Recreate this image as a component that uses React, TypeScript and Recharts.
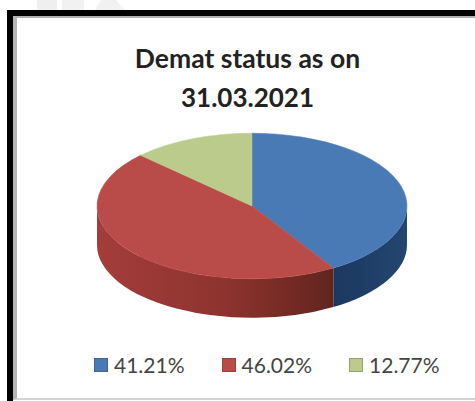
import { PieChart, Pie, Cell, Legend } from 'recharts';

const labels = ['41.21%', '46.02%', '12.77%'];
const shares = [41.21, 46.02, 12.77];
const topColors = ['#4a7ab6', '#b94c49', '#bbcb8c'];
const sideColors = ['url(#blueSide)', 'url(#redSide)', 'none'];

const data = labels.map((name, i) => ({ name, value: shares[i] }));

// pie is drawn flattened, ry is this share of the radius
const SQUASH = 0.47;
const DEPTH = 39;

function ellipsePoint(cx: number, cy: number, r: number, deg: number) {
  const t = (deg * Math.PI) / 180;
  return [cx + r * Math.cos(t), cy - r * SQUASH * Math.sin(t)];
}

function TopSlice(props: any) {
  const { cx, cy, outerRadius: r, startAngle, endAngle, fill } = props;
  const [x1, y1] = ellipsePoint(cx, cy, r, startAngle);
  const [x2, y2] = ellipsePoint(cx, cy, r, endAngle);
  const large = Math.abs(startAngle - endAngle) > 180 ? 1 : 0;
  const d = `M${cx},${cy} L${x1},${y1} A${r},${r * SQUASH} 0 ${large} 1 ${x2},${y2} Z`;
  return <path d={d} fill={fill} stroke={fill} strokeWidth={0.5} />;
}

function SideSlice(props: any) {
  const { cx, cy, outerRadius: r, startAngle, endAngle, fill } = props;
  // only the front half of the rim can be seen
  const hi = Math.min(startAngle, 0);
  const lo = Math.max(endAngle, -180);
  if (hi <= lo) return null;
  const [x1, y1] = ellipsePoint(cx, cy, r, hi);
  const [x2, y2] = ellipsePoint(cx, cy, r, lo);
  const ry = r * SQUASH;
  const d = `M${x1},${y1} A${r},${ry} 0 0 1 ${x2},${y2} L${x2},${y2 + DEPTH} A${r},${ry} 0 0 0 ${x1},${y1 + DEPTH} Z`;
  return <path d={d} fill={fill} />;
}

function LegendRow({ payload }: any) {
  const items = (payload || []).filter((p: any) => p.type !== 'none');
  return (
    <div style={{ display: 'flex', paddingLeft: 94, gap: 37, fontFamily: 'Lato, sans-serif', fontSize: 21, color: '#444', lineHeight: '24px' }}>
      {items.map((p: any) => (
        <div key={p.value} style={{ display: 'flex', alignItems: 'center', gap: 6 }}>
          <span style={{ width: 14, height: 14, background: p.color, border: '1px solid rgba(40,40,40,0.25)', boxSizing: 'border-box', display: 'block' }} />
          <span>{p.value}</span>
        </div>
      ))}
    </div>
  );
}

export default function App() {
  return (
    <div style={{ position: 'absolute', left: 0, top: 0, width: 475, height: 401, overflow: 'hidden', background: '#fff' }}>
      {/* faint watermark showing above the frame */}
      <div style={{ position: 'absolute', left: 37, top: 0, width: 20, height: 10, background: '#efefef' }} />
      <div style={{ position: 'absolute', left: 62, top: 0, width: 22, height: 10, background: '#f1f1f1' }} />
      <div style={{ position: 'absolute', left: 95, top: 0, width: 30, height: 10, background: '#f1f1f1', clipPath: 'polygon(20% 0, 70% 0, 100% 100%, 0 100%)' }} />
      <div style={{ position: 'absolute', left: 7, top: 10, width: 480, height: 391, borderLeft: '6px solid #000', borderTop: '6px solid #000', boxSizing: 'border-box' }} />
      <div style={{ position: 'absolute', left: 13, top: 16, width: 480, height: 384, borderLeft: '4px solid #b4b4b4', borderTop: '2px solid #b0b0b0', borderBottom: '2px solid #d4d4d4', boxSizing: 'border-box' }} />
      <div style={{ position: 'absolute', left: 0, top: 0 }}>
        <PieChart width={475} height={401} margin={{ top: 0, right: 0, bottom: 0, left: 0 }}>
          <defs>
            <linearGradient id="redSide" x1="0" y1="0" x2="1" y2="0">
              <stop offset="0" stopColor="#a33d3a" />
              <stop offset="0.55" stopColor="#8e332e" />
              <stop offset="1" stopColor="#62241e" />
            </linearGradient>
            <linearGradient id="blueSide" x1="0" y1="0" x2="1" y2="0">
              <stop offset="0" stopColor="#1b3860" />
              <stop offset="1" stopColor="#234670" />
            </linearGradient>
          </defs>
          <text x={247.5} y={68} textAnchor="middle" fontFamily="Lato, sans-serif" fontWeight={700} fontSize={26.5} fill="#222">Demat status as on</text>
          <text x={247.5} y={107} textAnchor="middle" fontFamily="Lato, sans-serif" fontWeight={700} fontSize={26} fill="#222">31.03.2021</text>
          <Pie data={data} dataKey="value" nameKey="name" cx={252} cy={206} outerRadius={155} startAngle={90} endAngle={-270} stroke="none" legendType="none" isAnimationActive={false} shape={SideSlice}>
            {data.map((d, i) => <Cell key={d.name} fill={sideColors[i]} />)}
          </Pie>
          <Pie data={data} dataKey="value" nameKey="name" cx={252} cy={206} outerRadius={155} startAngle={90} endAngle={-270} stroke="none" isAnimationActive={false} shape={TopSlice}>
            {data.map((d, i) => <Cell key={d.name} fill={topColors[i]} />)}
          </Pie>
          <Legend verticalAlign="middle" itemSorter={null} content={<LegendRow />} wrapperStyle={{ left: 0, top: 353, width: 475 }} />
        </PieChart>
      </div>
    </div>
  );
}
